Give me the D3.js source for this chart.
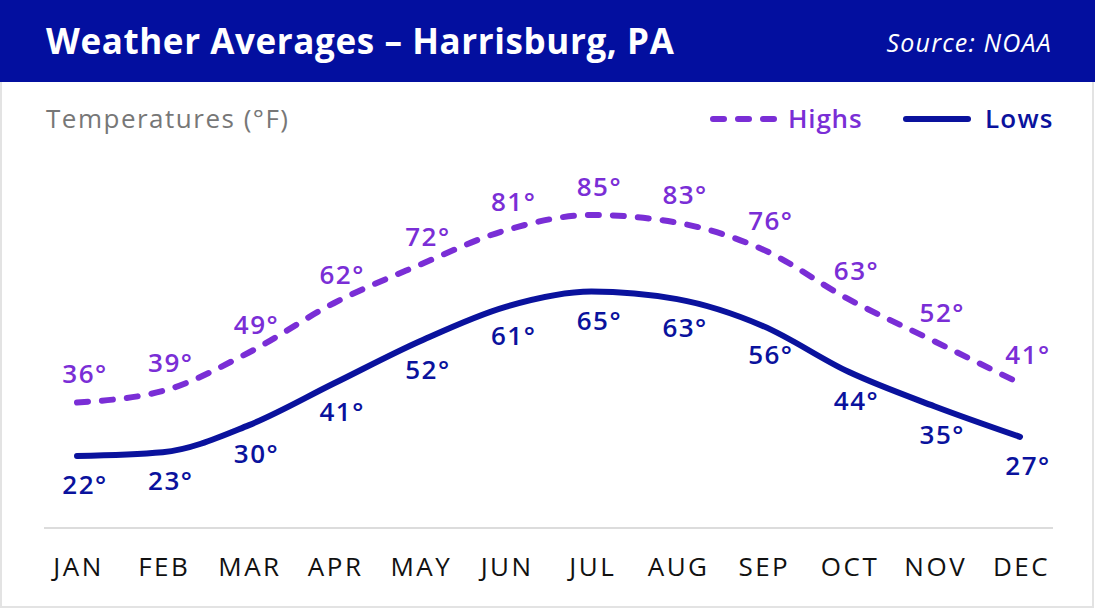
<!DOCTYPE html>
<html>
<head>
<meta charset="utf-8">
<script src="https://cdn.jsdelivr.net/npm/d3@7"></script>
<style>
  html, body { margin: 0; padding: 0; background: #fff; }
  svg { display: block; }
</style>
</head>
<body>
<svg id="chart"></svg>
<script>
const width = 1095;
const height = 609;

const months = ["JAN", "FEB", "MAR", "APR", "MAY", "JUN", "JUL", "AUG", "SEP", "OCT", "NOV", "DEC"];
const highs = [36, 39, 49, 62, 72, 81, 85, 83, 76, 63, 52, 41];
const lows = [22, 23, 30, 41, 52, 61, 65, 63, 56, 44, 35, 27];

const headerColor = "#030f9f";
const highColor = "#7a2ed6";
const lowColor = "#0a129d";
const fontFamily = "'Open Sans', 'Noto Sans', sans-serif";

const svg = d3.select("#chart")
    .attr("width", width)
    .attr("height", height)
    .style("font-family", fontFamily);

// frame
svg.append("rect")
    .attr("x", 1).attr("y", 1)
    .attr("width", width - 3).attr("height", height - 3)
    .attr("fill", "#fff")
    .attr("stroke", "#e3e3e3")
    .attr("stroke-width", 2);

// header
svg.append("rect")
    .attr("x", 0).attr("y", 0)
    .attr("width", width).attr("height", 82)
    .attr("fill", headerColor);

svg.append("text")
    .attr("x", 46).attr("y", 54)
    .attr("fill", "#fff")
    .attr("font-size", 35)
    .attr("font-weight", 700)
    .attr("letter-spacing", 0.6)
    .text("Weather Averages – Harrisburg, PA");

svg.append("text")
    .attr("x", 1052).attr("y", 52)
    .attr("text-anchor", "end")
    .attr("fill", "#fff")
    .attr("font-size", 25)
    .attr("font-style", "italic")
    .attr("letter-spacing", 1.2)
    .text("Source: NOAA");

svg.append("text")
    .attr("x", 46).attr("y", 128)
    .attr("fill", "#777")
    .attr("font-size", 26)
    .attr("letter-spacing", 1.5)
    .text("Temperatures (°F)");

// scales
const x = d3.scalePoint()
    .domain(months)
    .range([77, 1020]);

const y = d3.scaleLinear()
    .domain([22, 85])
    .range([456, 215]);

// baseline
svg.append("line")
    .attr("x1", 44).attr("x2", 1053)
    .attr("y1", 528).attr("y2", 528)
    .attr("stroke", "#dcdcdc")
    .attr("stroke-width", 2);

// month labels
const xAxis = d3.axisBottom(x).tickSize(0).tickPadding(0);
const axisG = svg.append("g")
    .attr("transform", "translate(0,558)")
    .call(xAxis);
axisG.select(".domain").remove();
axisG.selectAll("text")
    .attr("dy", "0.71em")
    .attr("dx", 1)
    .attr("font-family", fontFamily)
    .attr("font-size", 26)
    .attr("letter-spacing", 2.5)
    .attr("fill", "#111");

const line = d3.line()
    .x((d, i) => x(months[i]))
    .y(d => y(d))
    .curve(d3.curveMonotoneX);

// highs
svg.append("path")
    .datum(highs)
    .attr("d", line)
    .attr("fill", "none")
    .attr("stroke", highColor)
    .attr("stroke-width", 6)
    .attr("stroke-linecap", "round")
    .attr("stroke-dasharray", "11 14");

// lows
svg.append("path")
    .datum(lows)
    .attr("d", line)
    .attr("fill", "none")
    .attr("stroke", lowColor)
    .attr("stroke-width", 6)
    .attr("stroke-linecap", "round");

// value labels
svg.append("g")
    .selectAll("text")
    .data(highs)
    .join("text")
    .attr("x", (d, i) => x(months[i]) + 8)
    .attr("y", d => y(d) - 19)
    .attr("text-anchor", "middle")
    .attr("fill", highColor)
    .attr("font-size", 26)
    .attr("font-weight", 600)
    .attr("letter-spacing", 1.5)
    .text(d => d + "°");

svg.append("g")
    .selectAll("text")
    .data(lows)
    .join("text")
    .attr("x", (d, i) => x(months[i]) + 8)
    .attr("y", d => y(d) + 38)
    .attr("text-anchor", "middle")
    .attr("fill", lowColor)
    .attr("font-size", 26)
    .attr("font-weight", 600)
    .attr("letter-spacing", 1.5)
    .text(d => d + "°");

// legend
const legend = svg.append("g");
legend.append("line")
    .attr("x1", 713).attr("x2", 776)
    .attr("y1", 119).attr("y2", 119)
    .attr("stroke", highColor)
    .attr("stroke-width", 6)
    .attr("stroke-linecap", "round")
    .attr("stroke-dasharray", "11 14");
legend.append("text")
    .attr("x", 788).attr("y", 128)
    .attr("fill", highColor)
    .attr("font-size", 26)
    .attr("font-weight", 600)
    .attr("letter-spacing", 0.8)
    .text("Highs");
legend.append("line")
    .attr("x1", 906).attr("x2", 968)
    .attr("y1", 119).attr("y2", 119)
    .attr("stroke", lowColor)
    .attr("stroke-width", 6)
    .attr("stroke-linecap", "round");
legend.append("text")
    .attr("x", 985).attr("y", 128)
    .attr("fill", lowColor)
    .attr("font-size", 26)
    .attr("font-weight", 600)
    .attr("letter-spacing", 1.2)
    .text("Lows");
</script>
</body>
</html>
